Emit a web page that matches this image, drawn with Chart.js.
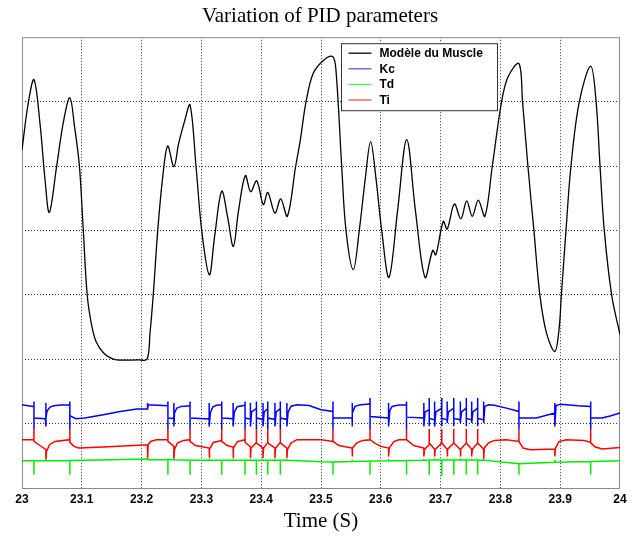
<!DOCTYPE html>
<html><head><meta charset="utf-8">
<script src="https://cdn.jsdelivr.net/npm/chart.js@4/dist/chart.umd.min.js"></script>
<style>html,body{margin:0;padding:0;background:#fff}#wrap{width:637px;height:536px}</style>
</head><body><div id="wrap"><canvas id="c"></canvas></div>
<script>
const chartTitle = 'Variation of PID parameters';
const xAxisTitle = 'Time (S)';
const xTickLabels = ['23','23.1','23.2','23.3','23.4','23.5','23.6','23.7','23.8','23.9','24'];
const seriesNames = ['Modèle du Muscle','Kc','Td','Ti'];
const seriesColors = ['#000000','#0000ff','#00f000','#ff0000'];

const muscle = [[23.000,5.25],[23.010,5.95],[23.020,6.34],[23.030,5.67],[23.0385,4.79],[23.0457,4.28],[23.058,5.0],[23.069,5.67],[23.080,6.06],[23.088,5.6],[23.096,5.0],[23.1025,4.0],[23.109,3.0],[23.116,2.55],[23.124,2.27],[23.136,2.10],[23.148,2.02],[23.158,1.99],[23.172,1.985],[23.195,1.99],[23.209,2.0],[23.214,2.4],[23.2195,3.0],[23.227,4.0],[23.235,4.8],[23.2436,5.31],[23.254,4.99],[23.262,5.35],[23.272,5.7],[23.281,5.95],[23.291,5.0],[23.3005,4.0],[23.3132,3.31],[23.322,3.9],[23.334,4.61],[23.344,4.2],[23.3534,3.75],[23.362,4.3],[23.3735,4.85],[23.3824,4.60],[23.3925,4.77],[23.4035,4.40],[23.411,4.59],[23.423,4.27],[23.4326,4.49],[23.4437,4.22],[23.4577,5.0],[23.465,5.38],[23.475,6.0],[23.487,6.44],[23.504,6.64],[23.5195,6.70],[23.525,6.49],[23.5346,5.0],[23.5418,4.0],[23.554,3.39],[23.564,4.0],[23.574,4.8],[23.583,5.38],[23.592,4.8],[23.6015,4.0],[23.6137,3.27],[23.628,4.3],[23.6433,5.41],[23.658,4.3],[23.6739,3.27],[23.6868,3.69],[23.692,3.62],[23.7045,4.14],[23.711,4.02],[23.7229,4.41],[23.734,4.18],[23.7436,4.46],[23.753,4.22],[23.763,4.47],[23.774,4.22],[23.7865,5.0],[23.802,6.0],[23.813,6.39],[23.831,6.59],[23.837,6.0],[23.846,5.0],[23.856,4.0],[23.866,3.0],[23.877,2.41],[23.891,2.12],[23.898,2.46],[23.902,3.0],[23.9097,4.0],[23.918,5.0],[23.932,6.0],[23.951,6.55],[23.96,6.0],[23.9666,5.0],[23.9737,4.0],[23.986,3.0],[24.0,2.38]];

const kc = [[23.000,1.293],[23.018,1.267],
[23.020,1.267],[23.020,1.344],[23.020,0.916],[23.020,1.086],[23.039,1.076],
[23.040,1.076],[23.040,1.319],[23.040,0.956],[23.040,1.086],[23.042,1.200],[23.047,1.257],[23.053,1.277],[23.065,1.290],[23.080,1.293],
[23.080,1.344],[23.080,0.916],[23.080,1.122],[23.090,1.076],[23.105,1.086],[23.136,1.138],[23.164,1.189],[23.192,1.226],[23.210,1.231],
[23.210,1.319],[23.210,1.215],[23.211,1.293],[23.244,1.277],
[23.244,1.344],[23.244,0.916],[23.244,1.086],[23.254,1.080],
[23.254,1.319],[23.254,0.956],[23.255,1.164],[23.259,1.242],[23.266,1.267],[23.281,1.277],
[23.281,1.344],[23.281,0.916],[23.281,1.086],[23.313,1.071],
[23.313,1.319],[23.313,0.956],[23.315,1.164],[23.319,1.257],[23.325,1.285],[23.334,1.293],
[23.334,1.344],[23.334,0.916],[23.334,1.086],[23.353,1.076],
[23.353,1.319],[23.353,0.956],[23.355,1.180],[23.360,1.262],[23.373,1.285],
[23.373,1.344],[23.373,0.916],[23.373,1.086],[23.382,1.070],
[23.382,1.319],[23.382,0.956],[23.384,1.180],[23.392,1.235],
[23.392,1.344],[23.392,0.916],[23.392,1.086],[23.403,1.065],
[23.403,1.319],[23.403,0.956],[23.405,1.180],[23.411,1.235],
[23.411,1.344],[23.411,0.916],[23.411,1.086],[23.423,1.065],
[23.423,1.319],[23.423,0.956],[23.425,1.180],[23.432,1.235],
[23.432,1.344],[23.432,0.916],[23.432,1.086],[23.443,1.065],
[23.443,1.319],[23.443,0.956],[23.445,1.180],[23.450,1.270],[23.460,1.293],[23.480,1.280],[23.500,1.215],[23.520,1.189],
[23.520,1.344],[23.520,0.916],[23.520,1.086],[23.552,1.086],
[23.552,1.319],[23.552,0.956],[23.553,1.164],[23.557,1.267],[23.566,1.293],[23.582,1.305],
[23.582,1.397],[23.582,0.916],[23.582,1.111],[23.613,1.086],
[23.613,1.319],[23.613,0.956],[23.615,1.200],[23.619,1.267],[23.630,1.290],[23.643,1.293],
[23.643,1.344],[23.643,0.916],[23.643,1.100],[23.672,1.086],
[23.672,1.319],[23.672,0.956],[23.674,1.180],[23.681,1.215],
[23.681,1.397],[23.681,0.960],[23.681,1.080],[23.690,1.060],
[23.690,1.344],[23.690,0.956],[23.692,1.180],[23.702,1.240],
[23.702,1.397],[23.702,0.960],[23.702,1.080],[23.711,1.060],
[23.711,1.344],[23.711,1.009],[23.713,1.180],[23.722,1.240],
[23.722,1.397],[23.722,0.960],[23.722,1.080],[23.733,1.060],
[23.733,1.344],[23.733,1.009],[23.735,1.180],[23.743,1.240],
[23.743,1.397],[23.743,0.960],[23.743,1.080],[23.752,1.060],
[23.752,1.344],[23.752,1.009],[23.754,1.180],[23.762,1.240],
[23.762,1.397],[23.762,0.960],[23.762,1.080],[23.772,1.060],
[23.772,1.344],[23.772,1.009],[23.774,1.267],[23.780,1.293],[23.790,1.285],[23.810,1.240],[23.831,1.189],
[23.831,1.344],[23.831,0.916],[23.831,1.086],[23.860,1.086],[23.891,1.164],
[23.891,1.319],[23.891,0.956],[23.893,1.280],[23.900,1.300],[23.930,1.277],[23.951,1.267],
[23.951,1.344],[23.951,0.916],[23.951,1.086],[23.970,1.086],[23.985,1.122],[24.000,1.164]];

const td = [[23.000,0.424],[23.020,0.424],[23.020,0.206],[23.020,0.424],
[23.040,0.424],[23.040,0.455],[23.040,0.424],
[23.080,0.428],[23.080,0.206],[23.080,0.428],
[23.150,0.440],[23.210,0.450],[23.210,0.470],[23.210,0.440],
[23.244,0.440],[23.244,0.206],[23.244,0.440],
[23.254,0.438],[23.254,0.460],[23.254,0.438],
[23.281,0.432],[23.281,0.206],[23.281,0.432],
[23.313,0.430],[23.313,0.455],[23.313,0.430],
[23.334,0.430],[23.334,0.206],[23.334,0.430],
[23.353,0.430],[23.353,0.455],[23.353,0.430],
[23.373,0.430],[23.373,0.206],[23.373,0.430],
[23.382,0.430],[23.382,0.455],[23.382,0.430],
[23.392,0.430],[23.392,0.206],[23.392,0.430],
[23.403,0.430],[23.403,0.455],[23.403,0.430],
[23.411,0.430],[23.411,0.206],[23.411,0.430],
[23.423,0.430],[23.423,0.455],[23.423,0.430],
[23.432,0.430],[23.432,0.206],[23.432,0.430],
[23.443,0.430],[23.443,0.455],[23.443,0.430],
[23.500,0.408],[23.520,0.405],[23.520,0.206],[23.520,0.405],
[23.552,0.410],[23.552,0.440],[23.552,0.410],
[23.582,0.418],[23.582,0.206],[23.582,0.418],
[23.613,0.424],[23.613,0.450],[23.613,0.424],
[23.643,0.428],[23.643,0.206],[23.643,0.428],
[23.672,0.432],[23.672,0.455],[23.672,0.432],
[23.681,0.434],[23.681,0.206],[23.681,0.434],
[23.690,0.436],[23.690,0.460],[23.690,0.436],
[23.702,0.436],[23.702,0.190],[23.702,0.436],
[23.711,0.436],[23.711,0.460],[23.711,0.436],
[23.722,0.436],[23.722,0.206],[23.722,0.436],
[23.733,0.436],[23.733,0.460],[23.733,0.436],
[23.743,0.436],[23.743,0.206],[23.743,0.436],
[23.752,0.436],[23.752,0.460],[23.752,0.436],
[23.762,0.434],[23.762,0.206],[23.762,0.434],
[23.772,0.432],[23.772,0.455],[23.772,0.432],
[23.831,0.377],[23.831,0.206],[23.831,0.377],
[23.891,0.400],[23.891,0.440],[23.891,0.400],
[23.951,0.413],[23.951,0.206],[23.951,0.413],
[24.000,0.424]];

const ti = [[23.000,0.750],[23.020,0.750],
[23.020,0.916],[23.020,0.723],[23.030,0.660],[23.040,0.594],
[23.040,0.439],[23.041,0.568],[23.046,0.672],[23.055,0.723],[23.080,0.750],
[23.080,0.916],[23.080,0.708],[23.087,0.646],[23.095,0.621],[23.136,0.636],[23.210,0.672],
[23.210,0.439],[23.211,0.672],[23.215,0.723],[23.225,0.750],[23.244,0.750],
[23.244,0.916],[23.244,0.723],[23.254,0.646],
[23.254,0.439],[23.255,0.600],[23.260,0.698],[23.270,0.739],[23.281,0.750],
[23.281,0.916],[23.281,0.723],[23.290,0.660],[23.313,0.621],
[23.313,0.466],[23.314,0.600],[23.320,0.708],[23.334,0.739],
[23.334,0.916],[23.334,0.723],[23.343,0.660],[23.353,0.636],
[23.353,0.466],[23.354,0.620],[23.360,0.720],[23.373,0.750],
[23.373,0.916],[23.373,0.710],[23.382,0.636],
[23.382,0.466],[23.383,0.620],[23.392,0.708],
[23.392,0.916],[23.392,0.700],[23.403,0.620],
[23.403,0.466],[23.404,0.620],[23.411,0.708],
[23.411,0.916],[23.411,0.700],[23.423,0.620],
[23.423,0.466],[23.424,0.620],[23.432,0.708],
[23.432,0.916],[23.432,0.700],[23.443,0.620],
[23.443,0.466],[23.444,0.600],[23.450,0.700],[23.460,0.750],[23.500,0.750],[23.520,0.723],
[23.520,0.916],[23.520,0.723],[23.530,0.660],[23.552,0.621],
[23.552,0.490],[23.553,0.620],[23.560,0.700],[23.570,0.739],[23.582,0.750],
[23.582,0.916],[23.582,0.750],[23.590,0.698],[23.600,0.646],[23.613,0.621],
[23.613,0.490],[23.614,0.620],[23.622,0.720],[23.630,0.750],[23.643,0.750],
[23.643,0.916],[23.643,0.750],[23.655,0.660],[23.672,0.621],
[23.672,0.490],[23.673,0.600],[23.681,0.672],
[23.681,0.916],[23.681,0.700],[23.690,0.600],
[23.690,0.490],[23.691,0.600],[23.702,0.700],
[23.702,0.916],[23.702,0.700],[23.711,0.600],
[23.711,0.490],[23.712,0.600],[23.722,0.700],
[23.722,0.916],[23.722,0.700],[23.733,0.600],
[23.733,0.490],[23.734,0.600],[23.743,0.700],
[23.743,0.916],[23.743,0.700],[23.752,0.600],
[23.752,0.490],[23.753,0.600],[23.762,0.700],
[23.762,0.916],[23.762,0.700],[23.772,0.600],
[23.772,0.440],[23.773,0.620],[23.780,0.700],[23.790,0.739],[23.810,0.750],[23.831,0.723],
[23.831,0.916],[23.831,0.723],[23.838,0.620],[23.850,0.594],[23.891,0.605],
[23.891,0.490],[23.892,0.620],[23.898,0.720],[23.910,0.750],[23.940,0.739],[23.951,0.708],
[23.951,0.916],[23.951,0.700],[23.958,0.640],[23.970,0.605],[24.000,0.630]];

const toPts = a => a.map(p => ({x: p[0], y: p[1]}));

const boxPlugin = {
  id: 'box',
  beforeDatasetsDraw(chart) {
    const {ctx, chartArea: a} = chart;
    ctx.save();
    ctx.strokeStyle = '#8a8a8a';
    ctx.lineWidth = 1;
    ctx.strokeRect(a.left + 0.5, a.top + 0.5, a.right - a.left - 1, a.bottom - a.top);
    ctx.restore();
  },
  afterDatasetsDraw(chart) {
    const {ctx, chartArea: a} = chart;
    const bx = a.left + 319.5, by = a.top + 6.5, bw = 156, bh = 67;
    ctx.save();
    ctx.fillStyle = '#fff';
    ctx.fillRect(bx, by, bw, bh);
    ctx.strokeStyle = '#333';
    ctx.lineWidth = 1;
    ctx.strokeRect(bx, by, bw, bh);
    ctx.font = 'bold 12px "Liberation Sans", Arial, sans-serif';
    ctx.textBaseline = 'middle';
    ctx.textAlign = 'left';
    const legendColors = ['#000000','#5a5aff','#40ff40','#ff4848'];
    for (let i = 0; i < seriesNames.length; i++) {
      const y = by + 9.5 + i * 15.6;
      ctx.strokeStyle = legendColors[i];
      ctx.lineWidth = 1.3;
      ctx.beginPath();
      ctx.moveTo(bx + 7, y);
      ctx.lineTo(bx + 30, y);
      ctx.stroke();
      ctx.fillStyle = '#000';
      ctx.fillText(seriesNames[i], bx + 38, y + 0.5);
    }
    ctx.restore();
  }
};

const serif = '"Liberation Serif", "Times New Roman", serif';
new Chart(document.getElementById('c'), {
  type: 'line',
  data: {
    datasets: [
      {label: seriesNames[0], data: toPts(muscle), borderColor: seriesColors[0], borderWidth: 1.3, pointRadius: 0, tension: 0.35, fill: false},
      {label: seriesNames[1], data: toPts(kc), borderColor: seriesColors[1], borderWidth: 1.5, pointRadius: 0, tension: 0, fill: false},
      {label: seriesNames[2], data: toPts(td), borderColor: seriesColors[2], borderWidth: 1.5, pointRadius: 0, tension: 0, fill: false},
      {label: seriesNames[3], data: toPts(ti), borderColor: seriesColors[3], borderWidth: 1.5, pointRadius: 0, tension: 0, fill: false}
    ]
  },
  options: {
    responsive: true,
    maintainAspectRatio: false,
    animation: false,
    events: [],
    layout: {padding: {left: 10, right: 7, top: 0, bottom: 0}},
    plugins: {
      legend: {display: false},
      tooltip: {enabled: false},
      title: {display: true, text: chartTitle, color: '#000', font: {family: serif, size: 21, weight: 'normal'}, padding: {top: 4, bottom: 8}}
    },
    scales: {
      x: {
        type: 'linear', min: 23, max: 24,
        afterFit(s) { s.height = 48; },
        ticks: {stepSize: 0.1, color: '#000', font: {family: '"Liberation Sans", Arial, sans-serif', size: 12, weight: 'bold'}, padding: 4, maxRotation: 0, autoSkip: false,
          callback: (v, i) => xTickLabels[i]},
        grid: {color: ctx => (ctx.index === 0 || ctx.index === 10) ? 'rgba(0,0,0,0)' : '#333', lineWidth: 1, drawTicks: false},
        border: {display: false, dash: [1, 2]},
        title: {display: true, text: xAxisTitle, color: '#000', font: {family: serif, size: 21, weight: 'normal'}, padding: {top: 2, bottom: 2}}
      },
      y: {
        min: 0, max: 7,
        afterFit(s) { s.width = 12; },
        ticks: {display: false, stepSize: 1},
        grid: {color: ctx => (ctx.index === 0 || ctx.index === 7) ? 'rgba(0,0,0,0)' : '#333', lineWidth: 1, drawTicks: false},
        border: {display: false, dash: [1, 2]}
      },
      yRight: {
        position: 'right', min: 0, max: 7,
        afterFit(s) { s.width = 10; },
        ticks: {display: false},
        grid: {display: false, drawTicks: false},
        border: {display: false}
      }
    }
  },
  plugins: [boxPlugin]
});
</script>
</body></html>
